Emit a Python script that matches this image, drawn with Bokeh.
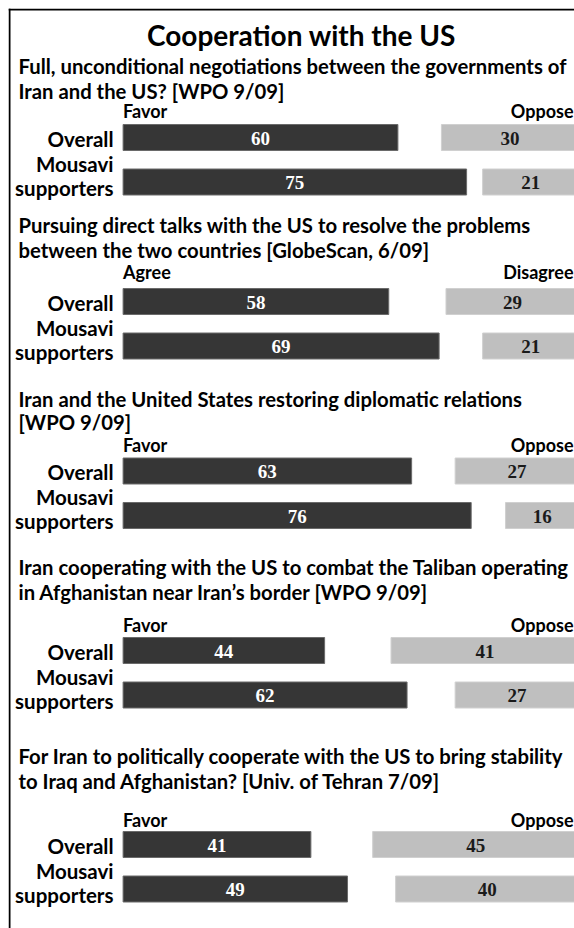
from bokeh.plotting import figure
from bokeh.models import Range1d, Span
from bokeh.core.properties import value
from bokeh.embed import file_html
from bokeh.resources import INLINE

# ---------------- data ----------------
title = "Cooperation with the US"
q_line1 = [
    "Full, unconditional negotiations between the governments of",
    "Pursuing direct talks with the US to resolve the problems",
    "Iran and the United States restoring diplomatic relations",
    "Iran cooperating with the US to combat the Taliban operating",
    "For Iran to politically cooperate with the US to bring stability",
]
q_line2 = [
    "Iran and the US? [WPO 9/09]",
    "between the two countries [GlobeScan, 6/09]",
    "[WPO 9/09]",
    "in Afghanistan near Iran\u2019s border [WPO 9/09]",
    "to Iraq and Afghanistan? [Univ. of Tehran 7/09]",
]
pos_labels = ["Favor", "Agree", "Favor", "Favor", "Favor"]
neg_labels = ["Oppose", "Disagree", "Oppose", "Oppose", "Oppose"]
overall_pos = [60, 58, 63, 44, 41]
overall_neg = [30, 29, 27, 41, 45]
mousavi_pos = [75, 69, 76, 62, 49]
mousavi_neg = [21, 21, 16, 27, 40]

# ---------------- layout (page pixels) ----------------
W, H = 574, 928
X0_PX, PX_PER = 122.6, 4.58          # where 0% sits, pixels per percent
def px2x(px):
    return (px - X0_PX) / PX_PER

def bl(y, size):
    # wanted alphabetic baseline -> anchor (renderer sits text ~0.34em low)
    return y - 0.34 * size

RIGHT = 99.5                          # right end of the "oppose" bars (percent)
q_base = [72, 231, 405, 573, 762]     # baseline of first question line
q_gap = [25, 25, 23, 25, 25]
head_base = [117, 278, 451, 631, 826]
bar1_c = [137, 301, 470.5, 650, 844]
ROW_GAP = 44.5
BAR_H = 26

DARK = "#363636"
LIGHT = "#bfbfbf"
FONT = value("Lato")
NUMFONT = value("Liberation Serif")
T_SZ, Q_SZ, H_SZ, L_SZ, N_SZ = 28, 20.3, 18, 20.5, 19

p = figure(width=W, height=H, output_backend="svg", toolbar_location=None,
           x_range=Range1d(px2x(8), px2x(W)), y_range=Range1d(H, 8),
           min_border_left=8, min_border_top=8, min_border_right=0, min_border_bottom=0,
           border_fill_color="white", background_fill_color="white",
           outline_line_color=None)
p.axis.visible = False
p.grid.visible = False

# frame (left and top edges)
p.add_layout(Span(location=px2x(9), dimension="height", line_color="black", line_width=2))
p.add_layout(Span(location=9, dimension="width", line_color="black", line_width=2))

def txt(xs, ys, texts, size, font=FONT, align="left", color="black"):
    p.text(x=xs, y=[bl(y, size) for y in ys], text=texts, text_font=font,
           text_font_style="bold", text_font_size=f"{size}px", text_align=align,
           text_baseline="alphabetic", text_color=color)

# title
txt([px2x(301)], [44], [title], T_SZ, align="center")

n = len(q_line1)
bar2_c = [c + ROW_GAP for c in bar1_c]

# question text
txt([px2x(18)] * n, q_base, q_line1, Q_SZ)
txt([px2x(18)] * n, [b + g for b, g in zip(q_base, q_gap)], q_line2, Q_SZ)

# column heads
txt([0] * n, head_base, pos_labels, H_SZ)
txt([px2x(573)] * n, head_base, neg_labels, H_SZ, align="right")

# row labels
txt([px2x(113)] * n, [c + 8 for c in bar1_c], ["Overall"] * n, L_SZ, align="right")
txt([px2x(113)] * n, [c - 11.5 for c in bar2_c], ["Mousavi"] * n, L_SZ, align="right")
txt([px2x(113)] * n, [c + 12.5 for c in bar2_c], ["supporters"] * n, L_SZ, align="right")

# bars
ys = bar1_c + bar2_c
pos = overall_pos + mousavi_pos
neg = overall_neg + mousavi_neg
p.hbar(y=ys, left=0, right=pos, height=BAR_H, fill_color=DARK, line_color="#6a6a6a", line_width=1)
p.hbar(y=ys, left=[RIGHT - v for v in neg], right=RIGHT, height=BAR_H,
       fill_color=LIGHT, line_color="#d0d0d0", line_width=1)

# values
txt([v / 2 for v in pos], [c + 7 for c in ys], [str(v) for v in pos], N_SZ,
    font=NUMFONT, align="center", color="white")
txt([RIGHT - v / 2 for v in neg], [c + 7 for c in ys], [str(v) for v in neg], N_SZ,
    font=NUMFONT, align="center", color="#1a1a1a")

open("out.html", "w").write(file_html(p, INLINE))
